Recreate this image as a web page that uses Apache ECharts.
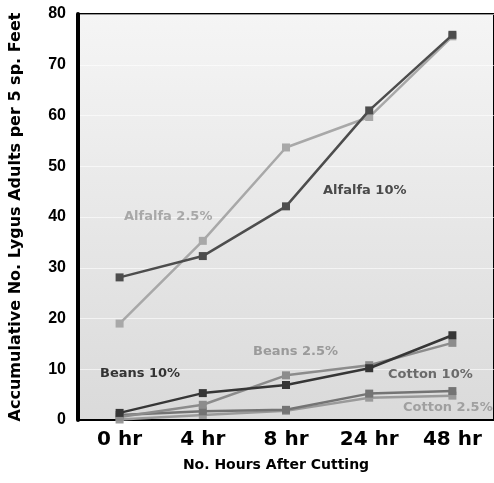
<!DOCTYPE html>
<html><head><meta charset="utf-8">
<script src="https://cdn.jsdelivr.net/npm/echarts@6/dist/echarts.min.js"></script>
<style>html,body{margin:0;padding:0;background:#fff}#c{width:494px;height:483px}</style>
</head><body><div id="c"></div>
<script>
const categories = ['0 hr', '4 hr', '8 hr', '24 hr', '48 hr'];
const yTicks = [0, 10, 20, 30, 40, 50, 60, 70, 80];
const alfalfa10 = [28.1, 32.3, 42.1, 61.0, 75.9];
const alfalfa25 = [19.0, 35.3, 53.7, 59.7, 75.6];
const beans10 = [1.4, 5.3, 6.9, 10.2, 16.7];
const beans25 = [0.6, 3.0, 8.8, 10.8, 15.2];
const cotton10 = [1.0, 1.7, 2.0, 5.2, 5.7];
const cotton25 = [0.1, 1.0, 1.8, 4.4, 4.8];
const labels = [
  {text: 'Alfalfa 2.5%', x: 124, y: 217, color: '#a8a8a8'},
  {text: 'Alfalfa 10%', x: 323, y: 191, color: '#4a4a4a'},
  {text: 'Beans 10%', x: 100, y: 374, color: '#333333'},
  {text: 'Beans 2.5%', x: 253, y: 352, color: '#9a9a9a'},
  {text: 'Cotton 10%', x: 388, y: 375, color: '#6a6a6a'},
  {text: 'Cotton 2.5%', x: 403, y: 408, color: '#a0a0a0'}
];
const chart = echarts.init(document.getElementById('c'));
function s(name, data, color, z) {
  return {name, type: 'line', data, symbol: 'rect', symbolSize: 8, z: z,
    lineStyle: {color, width: 2.5}, itemStyle: {color}};
}
chart.setOption({
  animation: false,
  grid: {left: 78, top: 14, width: 418, bottom: 63, show: true, borderColor: '#000', borderWidth: 2,
    backgroundColor: {type: 'linear', x: 0, y: 0, x2: 0, y2: 1,
      colorStops: [{offset: 0, color: '#f5f5f5'}, {offset: 1, color: '#dadada'}]}},
  xAxis: {type: 'category', data: categories, boundaryGap: true,
    axisLine: {lineStyle: {color: '#000', width: 2}},
    axisTick: {inside: true, length: 7, lineStyle: {color: '#000', width: 2}},
    axisLabel: {color: '#000', fontFamily: 'DejaVu Sans', fontWeight: 'bold', fontSize: 20, margin: 10},
    name: 'No. Hours After Cutting', nameLocation: 'middle', nameGap: 38,
    nameTextStyle: {color: '#000', fontFamily: 'DejaVu Sans', fontWeight: 'bold', fontSize: 14, padding: [0, 20, 0, 0]}},
  yAxis: {type: 'value', min: 0, max: 80, interval: 10,
    axisLine: {show: true, lineStyle: {color: '#000', width: 4}},
    axisTick: {show: false},
    splitLine: {show: true, lineStyle: {color: 'rgba(255,255,255,0.6)', width: 1}},
    axisLabel: {color: '#000', fontFamily: 'Liberation Sans', fontWeight: 'bold', fontSize: 16, margin: 12,
      formatter: v => yTicks.includes(v) ? String(v) : ''},
    name: 'Accumulative No. Lygus Adults per 5 sp. Feet', nameLocation: 'middle', nameGap: 54,
    nameTextStyle: {color: '#000', fontFamily: 'DejaVu Sans', fontWeight: 'bold', fontSize: 16}},
  series: [
    s('Alfalfa 2.5%', alfalfa25, '#a8a8a8', 2),
    s('Alfalfa 10%', alfalfa10, '#4d4d4d', 3),
    s('Cotton 2.5%', cotton25, '#9a9a9a', 2),
    s('Cotton 10%', cotton10, '#747474', 3),
    s('Beans 2.5%', beans25, '#8c8c8c', 3),
    s('Beans 10%', beans10, '#363636', 4)
  ],
  graphic: labels.map(l => ({type: 'text', x: l.x, y: l.y, z: 10,
    style: {text: l.text, fill: l.color, verticalAlign: 'middle', font: 'bold 13px "DejaVu Sans"'}}))
});
</script></body></html>
